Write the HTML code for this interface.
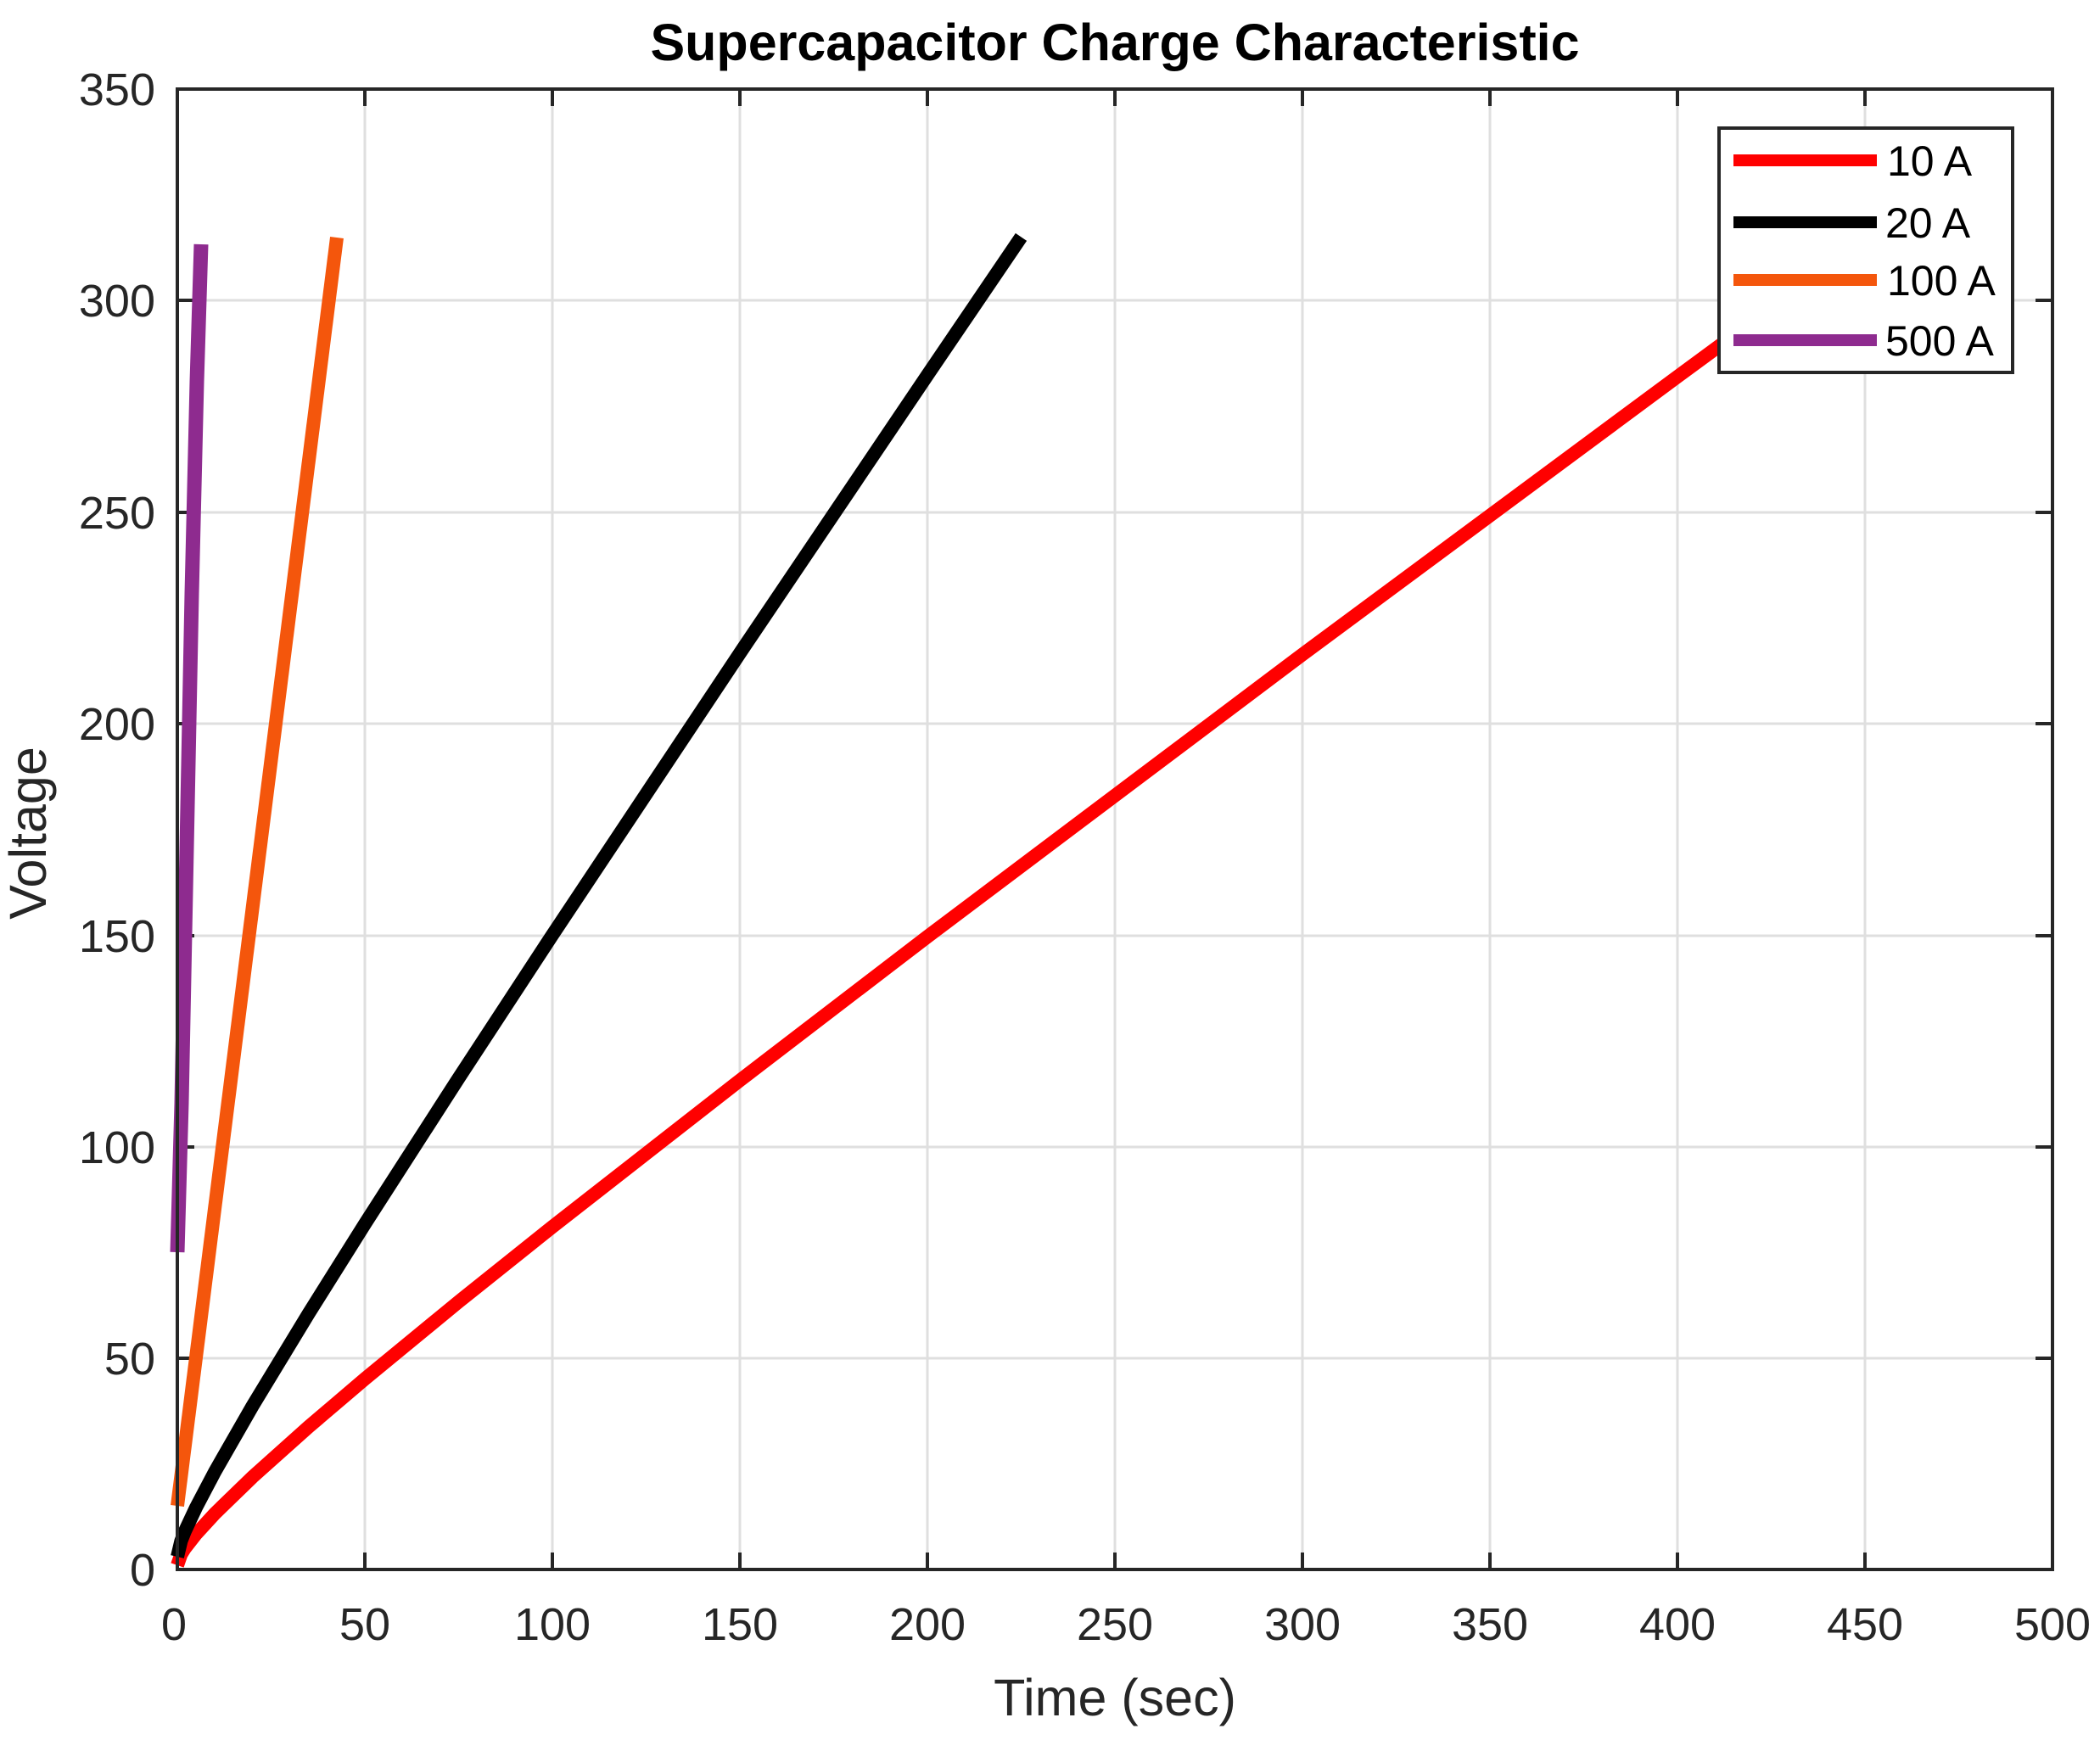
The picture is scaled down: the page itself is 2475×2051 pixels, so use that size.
<!DOCTYPE html>
<html><head><meta charset="utf-8"><style>html,body{margin:0;padding:0;background:#fff}</style></head>
<body>
<svg width="2475" height="2046" xmlns="http://www.w3.org/2000/svg" font-family="Liberation Sans, sans-serif">
<rect width="2475" height="2046" fill="#fff"/>
<g stroke="#dfdfdf" stroke-width="3">
<line x1="430" y1="105" x2="430" y2="1850"/><line x1="651" y1="105" x2="651" y2="1850"/><line x1="872" y1="105" x2="872" y2="1850"/><line x1="1093" y1="105" x2="1093" y2="1850"/><line x1="1314" y1="105" x2="1314" y2="1850"/><line x1="1535" y1="105" x2="1535" y2="1850"/><line x1="1756" y1="105" x2="1756" y2="1850"/><line x1="1977" y1="105" x2="1977" y2="1850"/><line x1="2198" y1="105" x2="2198" y2="1850"/>
<line x1="209" y1="1601" x2="2419" y2="1601"/><line x1="209" y1="1352" x2="2419" y2="1352"/><line x1="209" y1="1103" x2="2419" y2="1103"/><line x1="209" y1="853" x2="2419" y2="853"/><line x1="209" y1="604" x2="2419" y2="604"/><line x1="209" y1="354" x2="2419" y2="354"/>
</g>
<g stroke="#262626" stroke-width="4">
<path d="M430 1850v-20M651 1850v-20M872 1850v-20M1093 1850v-20M1314 1850v-20M1535 1850v-20M1756 1850v-20M1977 1850v-20M2198 1850v-20"/>
<path d="M430 105v20M651 105v20M872 105v20M1093 105v20M1314 105v20M1535 105v20M1756 105v20M1977 105v20M2198 105v20"/>
<path d="M209 1601h20M209 1352h20M209 1103h20M209 853h20M209 604h20M209 354h20"/>
<path d="M2419 1601h-20M2419 1352h-20M2419 1103h-20M2419 853h-20M2419 604h-20M2419 354h-20"/>
</g>
<g fill="none" stroke-width="16" stroke-linejoin="round">
<polyline stroke="#ff0000" points="209,1845 213.4,1832.3 217.8,1825.2 231.1,1808.2 253.2,1784.1 297.4,1741.2 363.7,1681.9 430,1625.4 540.5,1534.5 651,1446.1 872,1273.5 1093,1104.1 1535,771.5 1977,444 2198,281.4"/>
<polyline stroke="#000" points="209,1835 213.4,1816.5 217.8,1805.2 231.1,1776.8 253.2,1734.8 297.4,1657.6 363.7,1548.4 430,1442.7 540.5,1270.9 651,1102.1 872,769.9 1093,442.2 1203.5,279.4"/>
<polyline stroke="#f4560c" points="209,1775 397,280"/>
<polyline stroke="#8e2b8f" stroke-width="17" points="209,1476 214,1300 220,1000 226,700 232,450 237,288"/>
</g>
<rect x="209" y="105" width="2210" height="1745" fill="none" stroke="#262626" stroke-width="4"/>
<rect x="2026" y="151" width="346" height="288" fill="#fff" stroke="#262626" stroke-width="4"/>
<g stroke-width="14">
<line x1="2043" y1="189" x2="2212" y2="189" stroke="#ff0000"/>
<line x1="2043" y1="262" x2="2212" y2="262" stroke="#000"/>
<line x1="2043" y1="330" x2="2212" y2="330" stroke="#f4560c"/>
<line x1="2043" y1="401" x2="2212" y2="401" stroke="#8e2b8f"/>
</g>
<g font-size="50" fill="#000">
<text x="2224" y="207">10 A</text><text x="2222" y="280">20 A</text><text x="2224" y="348">100 A</text><text x="2222" y="419">500 A</text>
</g>
<g font-size="54" fill="#262626" text-anchor="end">
<text x="183" y="1869">0</text><text x="183" y="1620">50</text><text x="183" y="1371">100</text><text x="183" y="1122">150</text><text x="183" y="872">200</text><text x="183" y="623">250</text><text x="183" y="373">300</text><text x="183" y="124">350</text>
</g>
<g font-size="54" fill="#262626" text-anchor="middle">
<text x="205" y="1933">0</text><text x="430" y="1933">50</text><text x="651" y="1933">100</text><text x="872" y="1933">150</text><text x="1093" y="1933">200</text><text x="1314" y="1933">250</text><text x="1535" y="1933">300</text><text x="1756" y="1933">350</text><text x="1977" y="1933">400</text><text x="2198" y="1933">450</text><text x="2419" y="1933">500</text>
</g>
<text x="1314" y="2022" font-size="61" fill="#262626" text-anchor="middle">Time (sec)</text>
<text transform="translate(54,982) rotate(-90)" font-size="61" fill="#262626" text-anchor="middle">Voltage</text>
<text x="1314" y="71" font-size="61" font-weight="bold" fill="#000" text-anchor="middle">Supercapacitor Charge Characteristic</text>
</svg>
</body></html>
